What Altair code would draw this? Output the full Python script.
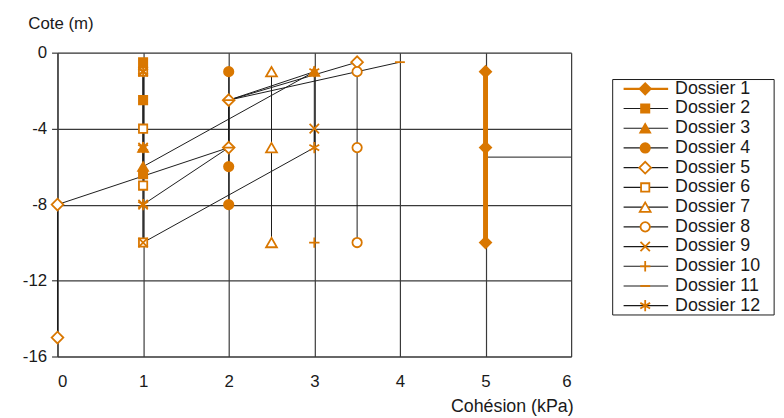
import altair as alt
import pandas as pd

ORANGE = "#D97700"
INK = "#1a1a1a"
GRID = "#3a3a3a"
FONT = "Liberation Sans"

names = [f"Dossier {i}" for i in range(1, 13)]

# marker positions (x = cohésion kPa, y = cote m)
mk_x = {
    "Dossier 1": [5, 5, 5],
    "Dossier 2": [1, 1, 1],
    "Dossier 3": [1, 1, 3],
    "Dossier 4": [2, 2, 2],
    "Dossier 5": [3.5, 2, 2, 0, 0],
    "Dossier 6": [1, 1, 1, 1],
    "Dossier 7": [2.5, 2.5, 2.5],
    "Dossier 8": [3.5, 3.5, 3.5],
    "Dossier 9": [1, 1, 1, 1, 3],
    "Dossier 10": [3],
    "Dossier 11": [4, 2, 2],
    "Dossier 12": [1, 1, 1, 3, 3],
}
mk_y = {
    "Dossier 1": [-1, -5, -10],
    "Dossier 2": [-0.5, -2.5, -6.4],
    "Dossier 3": [-5, -6, -1],
    "Dossier 4": [-1, -6, -8],
    "Dossier 5": [-0.5, -2.5, -5, -8, -15],
    "Dossier 6": [-1, -4, -7, -10],
    "Dossier 7": [-1, -5, -10],
    "Dossier 8": [-1, -5, -10],
    "Dossier 9": [-1, -5, -8, -10, -4],
    "Dossier 10": [-10],
    "Dossier 11": [-0.5, -2.5, -5],
    "Dossier 12": [-1, -5, -8, -1, -5],
}

# connecting line paths (black), in drawing order
path_names = ["p2", "p3", "p4", "p5", "p6", "p7", "p8", "p9", "p11", "p12", "p13"]
path_x = [
    [1, 1], [1, 1, 3], [2, 2], [3.5, 2, 2, 0, 0], [1, 1], [2.5, 2.5], [3.5, 3.5],
    [1, 1, 3, 3], [4, 2, 2, 1], [2, 3, 3], [5, 6],
]
path_y = [
    [-0.5, -6.4], [-5, -6, -1], [-1, -8], [-0.5, -2.5, -5, -8, -15], [-1, -10], [-1, -10], [-1, -10],
    [-1, -10, -5, -4], [-0.5, -2.5, -5, -8], [-2.5, -1, -5], [-5.5, -5.5],
]
# Dossier 1 drawn as a thick orange line
d1_line_x = [5, 5]
d1_line_y = [-1, -10]

X_PATH = "M-1,-1L1,1M-1,1L1,-1"
PLUS_PATH = "M-1,0L1,0M0,-1L0,1"
DASH_PATH = "M-1,0L1,0"
AST_PATH = "M0,-1L0,1M-0.87,-0.5L0.87,0.5M-0.87,0.5L0.87,-0.5"
shapes = ["diamond", "square", "triangle-up", "circle", "diamond", "square",
          "triangle-up", "circle", X_PATH, PLUS_PATH, DASH_PATH, AST_PATH]
fills = [ORANGE] * 4 + ["white"] * 8
sizes = [130, 70, 100, 90, 140, 70, 120, 90, 90, 110, 100, 130]
legend_line_widths = [2.2] + [1.2] * 11

pts = pd.DataFrame(
    [(n, names.index(n), x, y) for n in names for x, y in zip(mk_x[n], mk_y[n])],
    columns=["series", "si", "x", "y"],
)
lines_df = pd.DataFrame(
    [(p, k, x, y) for p, xs_, ys_ in zip(path_names, path_x, path_y)
     for k, (x, y) in enumerate(zip(xs_, ys_))],
    columns=["path", "k", "x", "y"],
)
d1_df = pd.DataFrame({"x": d1_line_x, "y": d1_line_y, "k": range(len(d1_line_x))})
leg_df = pd.DataFrame({"series": names, "idx": list(range(1, 13)), "si": list(range(12))})

SIZE_EXPR = f"{sizes}[datum.si]"
LW_EXPR = f"{legend_line_widths}[datum.si]"

xs = alt.Scale(domain=[0, 6], nice=False, zero=False)
ys = alt.Scale(domain=[-16, 0], nice=False, zero=False)
shape_sc = alt.Scale(domain=names, range=shapes)
fill_sc = alt.Scale(domain=names, range=fills)

xaxis = alt.Axis(
    values=list(range(7)), labelExpr="datum.value + ''", grid=True, gridColor=GRID,
    gridWidth=1.2, ticks=False, tickSize=0,
    domainColor=GRID, domainWidth=1.2, labelPadding=17, labelFontSize=17, labelColor=INK,
    labelFont=FONT,
    title="Cohésion (kPa)", titleFont=FONT, titleFontSize=18, titleFontWeight="normal",
    titleColor=INK, titleAlign="right", titleAnchor="end", titleX=521, titleY=56,
    titleBaseline="alphabetic",
)
yaxis = alt.Axis(
    values=[0, -4, -8, -12, -16], labelExpr="datum.value + ''", grid=True, gridColor=GRID,
    gridWidth=1.2, ticks=True, tickSize=6, tickColor=GRID, tickWidth=1.2, domainColor=GRID,
    domainWidth=1.2, labelPadding=5, labelFontSize=17,
    labelColor=INK, labelFont=FONT, title="Cote (m)", titleFont=FONT, titleFontSize=17,
    titleFontWeight="normal", titleColor=INK, titleAngle=0, titleAlign="left",
    titleX=-30, titleY=-24, titleBaseline="alphabetic",
)

black_lines = alt.Chart(lines_df).mark_line(color=INK, strokeWidth=1).encode(
    x=alt.X("x:Q", scale=xs, axis=xaxis),
    y=alt.Y("y:Q", scale=ys, axis=yaxis),
    detail="path:N",
    order="k:Q",
)
orange_line = alt.Chart(d1_df).mark_line(color=ORANGE, strokeWidth=5).encode(
    x=alt.X("x:Q", scale=xs), y=alt.Y("y:Q", scale=ys), order="k:Q"
)
markers = alt.Chart(pts).transform_calculate(sz=SIZE_EXPR).mark_point(
    stroke=ORANGE, strokeWidth=1.8, opacity=1, fillOpacity=1
).encode(
    x=alt.X("x:Q", scale=xs),
    y=alt.Y("y:Q", scale=ys),
    shape=alt.Shape("series:N", scale=shape_sc, legend=None),
    fill=alt.Fill("series:N", scale=fill_sc, legend=None),
    size=alt.Size("sz:Q", scale=None),
    order="si:Q",
)
main = alt.layer(black_lines, orange_line, markers)

# custom legend, drawn through its own scales (mapped beside the plot area)
lxs = alt.Scale(domain=[-25.422, -2.356], nice=False, zero=False)
lys = alt.Scale(domain=[-0.832, 14.576], nice=False, zero=False, reverse=True)

box_base = alt.Chart(leg_df).transform_aggregate(
    lo="min(idx)", hi="max(idx)"
).transform_calculate(
    top="datum.lo - 0.47", bot="datum.hi + 0.47", left="-0.49", right="6.76"
)
box_h = box_base.transform_fold(["top", "bot"], as_=["edge", "yy"]).mark_rule(
    stroke=INK, strokeWidth=1
).encode(
    x=alt.X("left:Q", scale=lxs, axis=None), x2="right:Q",
    y=alt.Y("yy:Q", scale=lys, axis=None),
)
box_v = box_base.transform_fold(["left", "right"], as_=["edge", "xx"]).mark_rule(
    stroke=INK, strokeWidth=1
).encode(
    x=alt.X("xx:Q", scale=lxs, axis=None),
    y=alt.Y("top:Q", scale=lys, axis=None), y2="bot:Q",
)
leg_rules = alt.Chart(leg_df).transform_calculate(lw=LW_EXPR).mark_rule().encode(
    x=alt.XDatum(0, scale=lxs, axis=None),
    x2=alt.X2Datum(2),
    y=alt.Y("idx:Q", scale=lys, axis=None),
    stroke=alt.Stroke("series:N", scale=alt.Scale(domain=names, range=[ORANGE] + [INK] * 11), legend=None),
    strokeWidth=alt.StrokeWidth("lw:Q", scale=None),
)
leg_pts = alt.Chart(leg_df).transform_calculate(sz=SIZE_EXPR).mark_point(
    stroke=ORANGE, strokeWidth=1.8, opacity=1, fillOpacity=1
).encode(
    x=alt.XDatum(0.97, scale=lxs, axis=None),
    y=alt.Y("idx:Q", scale=lys, axis=None),
    shape=alt.Shape("series:N", scale=shape_sc, legend=None),
    fill=alt.Fill("series:N", scale=fill_sc, legend=None),
    size=alt.Size("sz:Q", scale=None),
)
leg_txt = alt.Chart(leg_df).mark_text(
    align="left", baseline="middle", fontSize=18, font=FONT, color=INK
).encode(
    x=alt.XDatum(2.31, scale=lxs, axis=None),
    y=alt.Y("idx:Q", scale=lys, axis=None),
    text="series:N",
)
legend = alt.layer(box_h, box_v, leg_rules, leg_pts, leg_txt)

chart = alt.layer(main, legend).resolve_scale(x="independent", y="independent").properties(
    width=519, height=307,
    autosize=alt.AutoSizeParams(type="none"),
    padding={"left": 50, "top": 43, "right": 207, "bottom": 60},
).configure_view(stroke=None).configure(background="white")

chart.save("out.html", embed_options={"renderer": "svg", "actions": False})
